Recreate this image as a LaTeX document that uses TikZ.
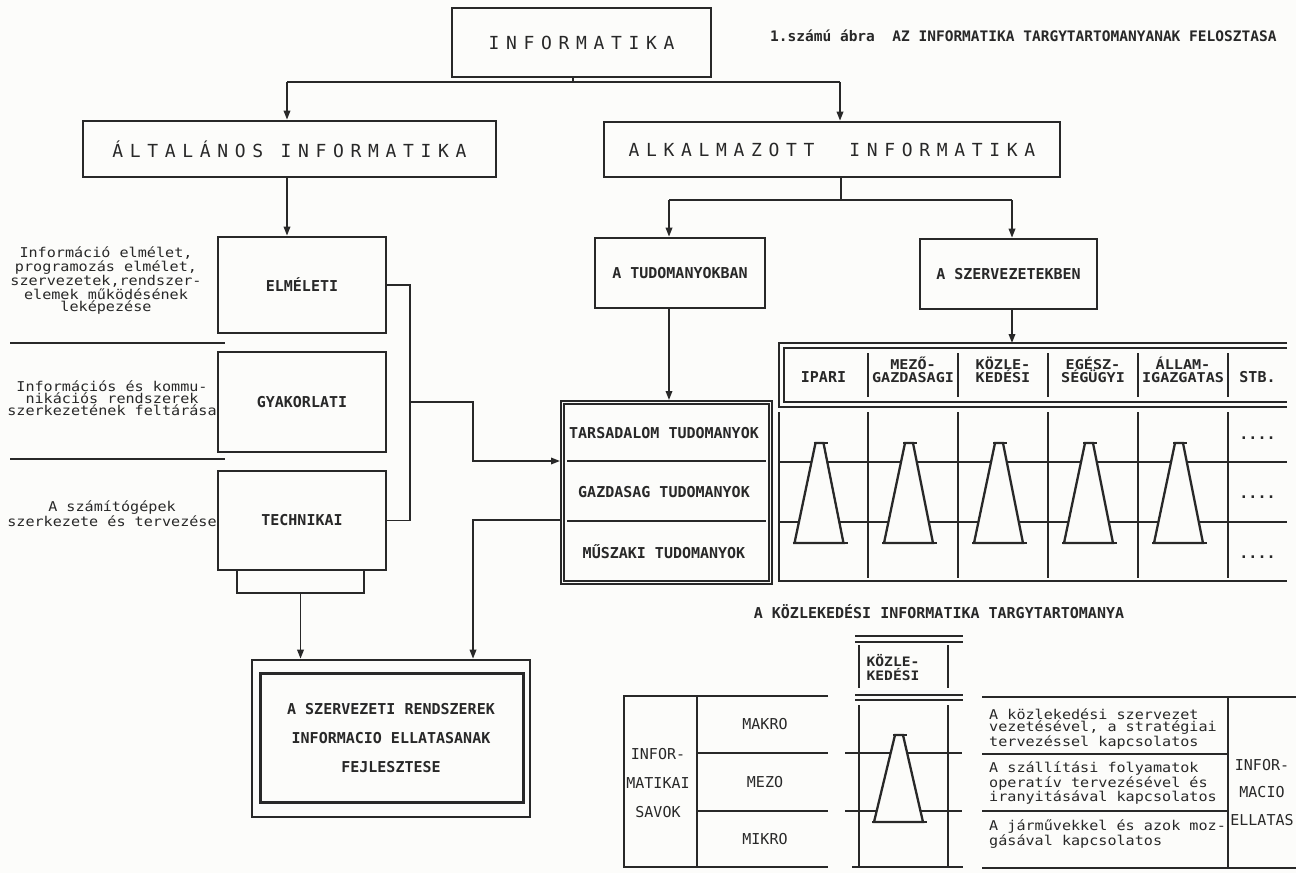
\documentclass[tikz,border=0pt]{standalone}
\usepackage{fontspec}
\setmainfont{DejaVu Sans}
\newfontfamily\titlef[LetterSpace=37]{DejaVu Sans Mono}
\newfontfamily\dotf{DejaVu Sans Mono}
\newfontfamily\dotw[FakeStretch=1.12]{DejaVu Sans Mono}
\usetikzlibrary{arrows.meta}
\definecolor{ink}{RGB}{40,40,40}
\definecolor{paper}{RGB}{252,252,250}
\tikzset{
  box/.style={draw=ink, line width=2.6pt, inner sep=0pt, align=center, text=ink},
  conn/.style={draw=ink, line width=1.7pt},
  arr/.style={conn, -{Triangle[length=9pt,width=6.5pt]}},
  tbl/.style={draw=ink, line width=2.2pt},
  sepline/.style={draw=ink, line width=1.5pt},
  ttl/.style={font=\titlef\fontsize{18}{20}\selectfont},
  lbl/.style={font=\dotf\bfseries\fontsize{15}{13}\selectfont, text=ink, inner sep=0pt, align=center},
  txt/.style={font=\dotf\fontsize{15}{13}\selectfont, text=ink, inner sep=0pt, align=center},
  small/.style={font=\dotw\fontsize{13.5}{12.3}\selectfont, text=ink, inner sep=0pt, align=center},
  hdr/.style={font=\dotw\bfseries\fontsize{13.5}{13}\selectfont, text=ink, inner sep=0pt, align=center},
}
\newcommand\trapz[3]{%
  \filldraw[fill=paper, draw=ink, line width=2.3pt, line join=miter] ({#1-25},#3) -- ({#1-4},#2) -- ({#1+4},#2) -- ({#1+24},#3) -- cycle;
  \draw[ink, line width=2.6pt] ({#1-6},#2) -- ({#1+8},#2);
  \draw[ink, line width=2.6pt] ({#1-27},#3) -- ({#1+28},#3);}
\begin{document}
\begin{tikzpicture}[x=1pt,y=-1pt]
\fill[paper] (0,0) rectangle (1296,873);
\useasboundingbox (0,0) rectangle (1296,873);

% ---------- top level ----------
\node[box, ttl, minimum width=259, minimum height=69] (inf) at (581.5,42.5) {INFORMATIKA};
\node[txt, font=\dotf\bfseries\fontsize{14.5}{14}\selectfont, anchor=west] (cap) at (770,36) {1.számú ábra\ \ AZ INFORMATIKA TARGYTARTOMANYANAK FELOSZTASA};

\node[box, ttl, minimum width=413, minimum height=56] (alt) at (289.5,149) {ÁLTALÁNOS INFORMATIKA};
\node[box, ttl, minimum width=456, minimum height=55] (alk) at (832,149.5) {ALKALMAZOTT\ \ INFORMATIKA};

\coordinate (jt) at (573,82);
\coordinate (jl) at (287,82);
\coordinate (jr) at (840,82);
\draw[conn] (inf.south -| jt) -- (jt);
\draw[conn] (jl) -- (jr);
\draw[arr] (jl) -- (alt.north -| jl);
\draw[arr] (jr) -- (alk.north -| jr);

% ---------- left branch ----------
\node[box, lbl, minimum width=168, minimum height=96] (elm) at (302,285) {ELMÉLETI};
\node[box, lbl, minimum width=168, minimum height=100] (gyak) at (302,402) {GYAKORLATI};
\node[box, lbl, minimum width=168, minimum height=99] (tech) at (302,520.5) {TECHNIKAI};
\node[box, line width=2pt, minimum width=127, minimum height=23] (sb) at (300.5,581.5) {};

\draw[arr] (alt.south -| jl) -- (elm.north -| jl);

\node[small] (d1) at (106,280.5) {Információ elmélet,\\programozás elmélet,\\szervezetek,rendszer-\\elemek működésének\\leképezése};
\node[small] (d2) at (112,398) {Információs és kommu-\\nikációs rendszerek\\szerkezetének feltárása};
\node[small] (d3) at (112,514) {A számítógépek\\szerkezete és tervezése};
\draw[tbl] (10,343) -- (225,343);
\draw[tbl] (10,459) -- (225,459);

% bracket
\coordinate (bx) at (410,0);
\draw[conn] (elm.east) -- (elm.east -| bx) -- (tech.east -| bx) -- (tech.east);
\coordinate (g1) at (410,402);
\coordinate (g2) at (473,461);
\coordinate (g3) at (473,520);

% ---------- right branch ----------
\coordinate (ja) at (841,200);
\coordinate (jal) at (669,200);
\coordinate (jar) at (1012,200);
\node[box, lbl, minimum width=170, minimum height=70] (atud) at (680,273) {A TUDOMANYOKBAN};
\node[box, lbl, minimum width=177, minimum height=70] (szerv) at (1008.5,274) {A SZERVEZETEKBEN};
\draw[conn] (alk.south -| ja) -- (ja);
\draw[conn] (jal) -- (jar);
\draw[arr] (jal) -- (atud.north -| jal);
\draw[arr] (jar) -- (szerv.north -| jar);

% tudomanyok box
\node[box, line width=2pt, minimum width=211, minimum height=183] (tud) at (666.5,492.5) {};
\draw[ink, line width=2pt] ([shift={(4,4)}]tud.north west) rectangle ([shift={(-4,-4)}]tud.south east);
\draw[tbl] (567,461) -- (766,461);
\draw[tbl] (567,521) -- (766,521);
\node[lbl] (t1) at (664,433) {TARSADALOM TUDOMANYOK};
\node[lbl] (t2) at (664,492) {GAZDASAG TUDOMANYOK};
\node[lbl] (t3) at (664,552) {MŰSZAKI TUDOMANYOK};
\draw[arr] (atud.south -| jal) -- (tud.north -| jal);

\draw[arr] (g1) -| (g2) -- (tud.west |- g2);

% development box
\node[box, lbl, font=\dotf\bfseries\fontsize{15}{29}\selectfont, minimum width=278, minimum height=157] (dev) at (391,738.5) {A SZERVEZETI RENDSZEREK\\INFORMACIO ELLATASANAK\\FEJLESZTESE};
\draw[ink, line width=2.6pt] ([shift={(10,15)}]dev.north west) rectangle ([shift={(-8,-16)}]dev.south east);
\draw[arr] (tud.west |- g3) -| (dev.north -| g3);
\draw[arr] (sb.south) -- (dev.north -| sb.south);

% ---------- sector table ----------
\coordinate (hd) at (1012,343);
\draw[arr] (szerv.south -| jar) -- (hd);
\draw[tbl] (1287,343) -- (779,343) -- (779,407) -- (1287,407);
\draw[tbl] (1287,348) -- (784,348) -- (784,402) -- (1287,402);
\foreach \c in {868,958,1048,1138,1228}{
  \draw[sepline] (\c,353) -- (\c,397);
  \draw[sepline] (\c,412) -- (\c,578);
}
\draw[tbl] (779,412) -- (779,581) -- (1287,581);
\draw[tbl] (779,462) -- (1287,462);
\draw[tbl] (779,522) -- (1287,522);
\foreach \t in {819.5,909,999,1089,1179}{\trapz{\t}{443}{543}}
\node[lbl] (h1) at (823.5,377) {IPARI};
\node[hdr] (h2) at (913,369.5) {MEZŐ-\\GAZDASAGI};
\node[hdr] (h3) at (1003,369.5) {KÖZLE-\\KEDÉSI};
\node[hdr] (h4) at (1093,369.5) {EGÉSZ-\\SÉGÜGYI};
\node[hdr] (h5) at (1183,369.5) {ÁLLAM-\\IGAZGATAS};
\node[lbl] (h6) at (1257.5,377) {STB.};
\node[lbl] (p1) at (1257.5,438) {....};
\node[lbl] (p2) at (1257.5,497) {....};
\node[lbl] (p3) at (1257.5,557) {....};

% ---------- bottom section ----------
\node[lbl] (bt) at (939,612) {A KÖZLEKEDÉSI INFORMATIKA TARGYTARTOMANYA};

% közlekedési column
\draw[tbl] (855,636) -- (963,636);
\draw[tbl] (855,642) -- (963,642);
\draw[sepline] (859,645) -- (859,688);
\draw[sepline] (948,645) -- (948,688);
\node[hdr, font=\dotw\bfseries\fontsize{13}{12}\selectfont, align=left] (kz) at (893,667.5) {KÖZLE-\\KEDÉSI};
\draw[tbl] (855,695) -- (963,695);
\draw[tbl] (855,700) -- (963,700);
\draw[sepline] (859,705) -- (859,867);
\draw[sepline] (948,705) -- (948,867);
\draw[tbl] (852,867) -- (963,867);
\draw[tbl] (845,753) -- (962,753);
\draw[tbl] (845,811) -- (962,811);
\trapz{899}{735}{822}

% left table
\draw[tbl] (828,696) -- (624,696) -- (624,867) -- (828,867);
\draw[sepline] (697,696) -- (697,867);
\draw[tbl] (697,753) -- (828,753);
\draw[tbl] (697,811) -- (828,811);
\node[txt, font=\dotf\fontsize{15}{29}\selectfont] (sav) at (658,783) {INFOR-\\MATIKAI\\SAVOK};
\node[txt] (m1) at (765,724.5) {MAKRO};
\node[txt] (m2) at (765,782) {MEZO};
\node[txt] (m3) at (765,839) {MIKRO};

% right table
\draw[tbl] (982,697) -- (1296,697);
\draw[tbl] (982,868) -- (1296,868);
\draw[sepline] (1228,697) -- (1228,868);
\draw[tbl] (982,754) -- (1228,754);
\draw[tbl] (982,811) -- (1228,811);
\node[small, anchor=west, align=left, font=\dotw\fontsize{13.5}{12}\selectfont] (r1) at (989,729) {A közlekedési szervezet\\vezetésével, a stratégiai\\tervezéssel kapcsolatos};
\node[small, anchor=west, align=left, font=\dotw\fontsize{13.5}{12}\selectfont] (r2) at (989,783) {A szállítási folyamatok\\operatív tervezésével és\\iranyitásával kapcsolatos};
\node[small, anchor=west, align=left, font=\dotw\fontsize{13.5}{12}\selectfont] (r3) at (989,834) {A járművekkel és azok moz-\\gásával kapcsolatos};
\node[txt, font=\dotf\fontsize{15}{27.5}\selectfont] (ie) at (1262,792.5) {INFOR-\\MACIO\\ELLATAS};
\end{tikzpicture}
\end{document}
